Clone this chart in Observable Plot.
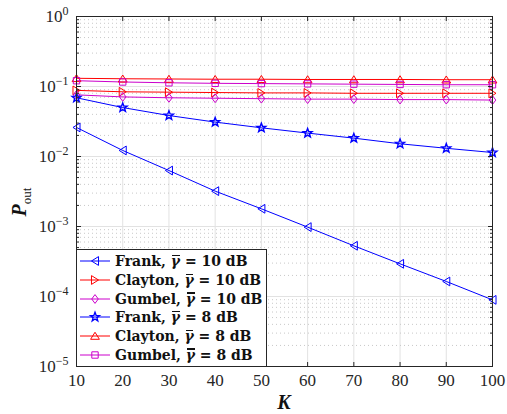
<!DOCTYPE html>
<html>
<head>
<meta charset="utf-8">
<script src="https://cdn.jsdelivr.net/npm/d3@7"></script>
<script src="https://cdn.jsdelivr.net/npm/@observablehq/plot@0.6"></script>
<style>
  html, body { margin: 0; padding: 0; background: #fff; }
  #wrap { position: relative; width: 507px; height: 414px; }
  #legend {
    position: absolute; background: #fff; border: 1px solid #262626;
    box-sizing: border-box; padding: 2px 0 0 2px;
    font-family: "DejaVu Serif", "Liberation Serif", serif; font-weight: bold; font-size: 14px; color: #111;
  }
  #legend .row { display: flex; align-items: center; height: 18.7px; white-space: nowrap; }
  #legend svg { margin-right: 4px; flex: none; }
  #legend .gb { position: relative; display: inline-block; font-style: italic; }
  #legend .gb .bar { position: absolute; left: 18%; right: 4%; top: 0.12em; height: 1.3px; background: currentColor; }
</style>
</head>
<body>
<div id="wrap"></div>
<script>
// ---------- data ----------
const K = [10, 20, 30, 40, 50, 60, 70, 80, 90, 100];
const frank10   = [0.026, 0.0122, 0.0063, 0.0032, 0.00179, 0.00098, 0.00053, 0.000293, 0.000164, 0.0000895];
const clayton10 = [0.088, 0.084, 0.083, 0.082, 0.081, 0.081, 0.080, 0.080, 0.080, 0.080];
const gumbel10  = [0.076, 0.071, 0.069, 0.068, 0.067, 0.066, 0.066, 0.065, 0.065, 0.064];
const frank8    = [0.069, 0.050, 0.0385, 0.031, 0.0257, 0.0216, 0.0183, 0.0152, 0.0131, 0.0114];
const clayton8  = [0.131, 0.129, 0.128, 0.127, 0.127, 0.126, 0.126, 0.126, 0.125, 0.125];
const gumbel8   = [0.121, 0.116, 0.113, 0.111, 0.110, 0.109, 0.108, 0.107, 0.106, 0.106];

const seriesCopula = ["Frank", "Clayton", "Gumbel", "Frank", "Clayton", "Gumbel"];
const seriesSnr = ["10", "10", "10", "8", "8", "8"];
const seriesValues = [frank10, clayton10, gumbel10, frank8, clayton8, gumbel8];
const seriesColors = ["#0000ff", "#ff0000", "#cc00cc", "#0000ff", "#ff0000", "#cc00cc"];
const seriesMarkers = ["triangleLeft", "triangleRight", "diamond", "star", "triangleUp", "square"];

const xTicks = [10, 20, 30, 40, 50, 60, 70, 80, 90, 100];
const yDecades = [1e-5, 1e-4, 1e-3, 1e-2, 1e-1, 1];
const yMinor = [];
for (let e = -5; e < 0; e++) for (let m = 2; m <= 9; m++) yMinor.push(m * Math.pow(10, e));

// ---------- custom marker symbols ----------
const symbols = {
  triangleLeft: { draw(c, size) { const h = Math.sqrt(size) * 0.62;
    c.moveTo(-h * 0.8, 0); c.lineTo(h * 0.8, -h); c.lineTo(h * 0.8, h); c.closePath(); } },
  triangleRight: { draw(c, size) { const h = Math.sqrt(size) * 0.62;
    c.moveTo(h * 0.8, 0); c.lineTo(-h * 0.8, -h); c.lineTo(-h * 0.8, h); c.closePath(); } },
  triangleUp: { draw(c, size) { const h = Math.sqrt(size) * 0.62;
    c.moveTo(0, -h * 0.85); c.lineTo(h, h * 0.75); c.lineTo(-h, h * 0.75); c.closePath(); } },
  diamond: { draw(c, size) { const h = Math.sqrt(size) * 0.62;
    c.moveTo(0, -h); c.lineTo(h * 0.75, 0); c.lineTo(0, h); c.lineTo(-h * 0.75, 0); c.closePath(); } },
  square: { draw(c, size) { const h = Math.sqrt(size) * 0.45;
    c.moveTo(-h, -h); c.lineTo(h, -h); c.lineTo(h, h); c.lineTo(-h, h); c.closePath(); } },
  star: { draw(c, size) { const R = Math.sqrt(size) * 0.66, r = R * 0.42;
    for (let i = 0; i < 10; i++) { const a = -Math.PI / 2 + i * Math.PI / 5, rr = i % 2 ? r : R;
      const x = rr * Math.cos(a), y = rr * Math.sin(a); i ? c.lineTo(x, y) : c.moveTo(x, y); }
    c.closePath(); } }
};

// ---------- table ----------
const rows = [];
seriesValues.forEach((vals, s) => vals.forEach((v, i) => rows.push({ s, K: K[i], P: v })));

const tickColor = "#262626";
const fontFamily = "Liberation Serif, DejaVu Serif, serif";
const sup = e => e === 0 ? "0" : "\u2212" + Math.abs(e);
const blank = () => "";

const marks = [
  Plot.ruleX(xTicks, { stroke: "#e2e2e2", strokeWidth: 1 }),
  Plot.ruleY(yMinor, { stroke: "#c8c8c8", strokeDasharray: "1,3", strokeWidth: 1 }),
  Plot.ruleY(yDecades, { stroke: "#e2e2e2", strokeWidth: 1 }),
];
seriesValues.forEach((_, s) => {
  const d = rows.filter(r => r.s === s);
  marks.push(Plot.line(d, { x: "K", y: "P", stroke: seriesColors[s], strokeWidth: 1 }));
});
seriesValues.forEach((_, s) => {
  const d = rows.filter(r => r.s === s);
  marks.push(Plot.dot(d, { x: "K", y: "P", stroke: seriesColors[s], fill: "none",
    symbol: () => symbols[seriesMarkers[s]], r: 4, strokeWidth: seriesMarkers[s] === "star" ? 1.4 : 1 }));
});
marks.push(
  Plot.frame({ stroke: tickColor, strokeWidth: 1 }),
  Plot.axisX(xTicks, { anchor: "bottom", tickSize: -4, stroke: tickColor, tickPadding: 11,
    fontSize: 17, fill: tickColor, fontFamily, label: null }),
  Plot.axisX(xTicks, { anchor: "top", tickSize: -4, stroke: tickColor, tickFormat: blank, label: null }),
  Plot.axisY(yDecades, { anchor: "left", tickSize: -5, stroke: tickColor, tickPadding: 13,
    fontSize: 17, fill: tickColor, fontFamily, label: null, tickFormat: d => String(Math.round(Math.log10(d))) }),
  Plot.axisY(yDecades, { anchor: "right", tickSize: -5, stroke: tickColor, tickFormat: blank, label: null }),
  Plot.axisY(yMinor, { anchor: "left", tickSize: -3, stroke: tickColor, tickFormat: blank, label: null }),
  Plot.axisY(yMinor, { anchor: "right", tickSize: -3, stroke: tickColor, tickFormat: blank, label: null })
);

const chart = Plot.plot({
  width: 507, height: 414,
  marginLeft: 76, marginRight: 15, marginTop: 16, marginBottom: 48,
  style: { background: "#fff", overflow: "visible" },
  x: { domain: [10, 100], label: null },
  y: { type: "log", domain: [1e-5, 1], label: null },
  marks
});
document.getElementById("wrap").appendChild(chart);

const svg = d3.select(chart);
// drop empty tick labels of tick-only axes
svg.selectAll('g[aria-label$="tick label"] text').filter(function () { return this.textContent === ""; }).remove();
// superscript tick labels 10^e
svg.selectAll('g[aria-label="y-axis tick label"] text').each(function () {
  const t = d3.select(this);
  const e = +t.text();
  t.text(null);
  t.append("tspan").text("10");
  t.append("tspan").attr("dy", "-0.55em").attr("font-size", 12).text(sup(e));
});

// axis titles
svg.append("text")
  .attr("transform", "translate(26,202) rotate(-90)")
  .attr("text-anchor", "middle")
  .attr("font-family", fontFamily).attr("fill", "#111")
  .call(t => {
    t.append("tspan").attr("font-size", 20).attr("font-weight", "bold").attr("font-style", "italic").text("P");
    t.append("tspan").attr("font-size", 13).attr("dy", "0.35em").text("out");
  });
svg.append("text")
  .attr("x", 284).attr("y", 409)
  .attr("text-anchor", "middle")
  .attr("font-family", fontFamily).attr("fill", "#111")
  .attr("font-size", 20).attr("font-weight", "bold").attr("font-style", "italic")
  .text("K");

// legend
const legend = document.createElement("div");
legend.id = "legend";
Object.assign(legend.style, { left: "76px", top: "249px", width: "191px", height: "118px" });
seriesCopula.forEach((name, s) => {
  const row = document.createElement("div");
  row.className = "row";
  const ns = "http://www.w3.org/2000/svg";
  const sv = document.createElementNS(ns, "svg");
  sv.setAttribute("width", 32); sv.setAttribute("height", 14);
  const ln = document.createElementNS(ns, "line");
  Object.entries({ x1: 1, x2: 31, y1: 7, y2: 7, stroke: seriesColors[s], "stroke-width": 1 }).forEach(([k, v]) => ln.setAttribute(k, v));
  sv.appendChild(ln);
  const p = d3.path();
  symbols[seriesMarkers[s]].draw(p, 16 * Math.PI);
  const mk = document.createElementNS(ns, "path");
  mk.setAttribute("d", p.toString());
  mk.setAttribute("transform", "translate(16,7)");
  mk.setAttribute("fill", "none");
  mk.setAttribute("stroke", seriesColors[s]);
  mk.setAttribute("stroke-width", seriesMarkers[s] === "star" ? 1.4 : 1);
  sv.appendChild(mk);
  row.appendChild(sv);
  const span = document.createElement("span");
  span.innerHTML = name + ', <span class="gb">γ<span class="bar"></span></span> = ' + seriesSnr[s] + " dB";
  row.appendChild(span);
  legend.appendChild(row);
});
document.getElementById("wrap").appendChild(legend);
</script>
</body>
</html>
